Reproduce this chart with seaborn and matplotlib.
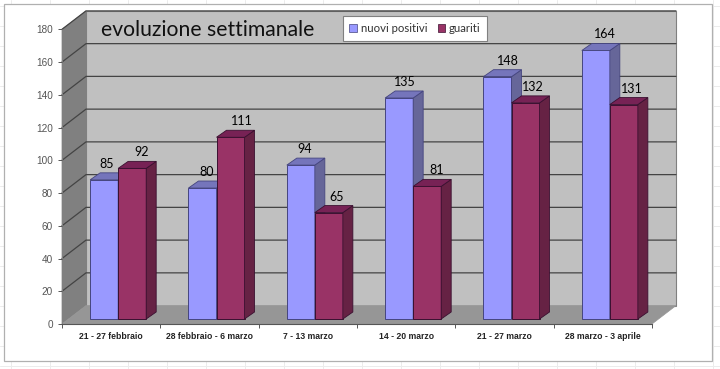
import numpy as np
import pandas as pd
import seaborn as sns
from matplotlib import pyplot as plt
from matplotlib.lines import Line2D
from matplotlib.patches import Polygon, Rectangle
from matplotlib.transforms import Affine2D

weeks = ['21 - 27 febbraio', '28 febbraio - 6 marzo', '7 - 13 marzo',
         '14 - 20 marzo', '21 - 27 marzo', '28 marzo - 3 aprile']
nuovi_positivi = [85, 80, 94, 135, 148, 164]
guariti = [92, 111, 65, 81, 132, 131]
series_names = ['nuovi positivi', 'guariti']
y_ticks = [0, 20, 40, 60, 80, 100, 120, 140, 160, 180]

# label shift to the right of the bar centre, in pixels (Excel puts them unevenly)
nudge_pos = [2, 4, 4, 6, 10, 9]
nudge_gua = [9, 11, 8, 9, 7, 8]

sns.set_style('white')
plt.rcParams['font.family'] = ['Liberation Sans', 'DejaVu Sans']
label_font = ['Lato', 'DejaVu Sans']

W, H = 720, 369
fig = plt.figure(figsize=(W / 100, H / 100), dpi=100, facecolor='white')

# excel sheet behind the chart
for x in np.arange(11, 720, 39):
    fig.add_artist(Line2D([x / W, x / W], [0, 1], color='#ececec', lw=0.7, zorder=-5))
for y in np.arange(6, 369, 20):
    fig.add_artist(Line2D([0, 1], [1 - y / H, 1 - y / H], color='#ececec', lw=0.7, zorder=-5))
fig.add_artist(Rectangle((3.5 / W, 1 - 360.5 / H), 708 / W, 356.5 / H, transform=fig.transFigure,
                         facecolor='white', edgecolor='#b0b0b0', lw=0.9, zorder=-4))

ax = fig.add_axes([62 / W, 1 - 324 / H, 590 / W, 294.7 / H])
ax.set_facecolor('none')

df = pd.DataFrame({
    'week': weeks * 2,
    'value': nuovi_positivi + guariti,
    'serie': [series_names[0]] * 6 + [series_names[1]] * 6,
})
sns.barplot(data=df, x='week', y='value', hue='serie', order=weeks, hue_order=series_names,
            palette=['#9999FF', '#993366'], width=0.57, gap=0, saturation=1, ax=ax,
            linewidth=0.7, legend=False)
ax.set_xlim(-0.5, 5.5)
ax.set_ylim(0, 180)
ax.set_xlabel('')
ax.set_ylabel('')

px_x = 590 / 6
px_y = 294.7 / 180
wall_shift = (24 / px_x, 18.4 / px_y)
depth = (10 / px_x, 7 / px_y)
front = ax.transData + Affine2D().translate(7, 5)

# walls and floor
x0, x1 = -0.5, 5.5
sx, sy = wall_shift
ax.add_patch(Polygon([(x0 + sx, sy), (x1 + sx, sy), (x1 + sx, 180 + sy), (x0 + sx, 180 + sy)],
                     facecolor='#C0C0C0', edgecolor='#808080', lw=0.8, zorder=0.1, clip_on=False))
ax.add_patch(Polygon([(x0, 0), (x0 + sx, sy), (x0 + sx, 180 + sy), (x0, 180)],
                     facecolor='#808080', edgecolor='#808080', lw=0.5, zorder=0.2, clip_on=False))
ax.add_patch(Polygon([(x0, 0), (x1, 0), (x1 + sx, sy), (x0 + sx, sy)],
                     facecolor='#969696', edgecolor='#969696', lw=0.5, zorder=0.2, clip_on=False))
for v in y_ticks[1:]:
    ax.plot([x0, x0 + sx, x1 + sx], [v, v + sy, v + sy], color='#444444', lw=0.9,
            zorder=0.3, clip_on=False)

# 3d look of the bars
colors = [('#666699', '#7575BB', '#45457f'), ('#662244', '#772255', '#3a1030')]
nudges = [nudge_pos, nudge_gua]
for k, cont in enumerate(ax.containers):
    side_col, top_col, edge_col = colors[k]
    for i, p in enumerate(cont):
        a, w, h = p.get_x(), p.get_width(), p.get_height()
        p.set_transform(front)
        p.set_clip_on(False)
        p.set_zorder(3 + k)
        p.set_edgecolor(edge_col)
        dx, dy = depth
        ax.add_patch(Polygon([(a + w, 0), (a + w + dx, dy), (a + w + dx, h + dy), (a + w, h)],
                             transform=front, facecolor=side_col, edgecolor=edge_col, lw=0.6,
                             zorder=3.1 + k, clip_on=False))
        ax.add_patch(Polygon([(a, h), (a + w, h), (a + w + dx, h + dy), (a + dx, h + dy)],
                             transform=front, facecolor=top_col, edgecolor=edge_col, lw=0.6,
                             zorder=3.2 + k, clip_on=False))
        ax.annotate(str(int(h)), (a + w / 2, h), xycoords=front, xytext=(nudges[k][i] * 0.72, 16 * 0.72),
                    textcoords='offset points', ha='center', va='center', fontsize=9,
                    family=label_font, color='black', zorder=8, annotation_clip=False)

# axes
sns.despine(ax=ax, top=True, right=True)
ax.spines['left'].set_color('#808080')
ax.spines['left'].set_linewidth(0.7)
ax.spines['bottom'].set_color('#555555')
ax.spines['bottom'].set_linewidth(0.8)
ax.spines['left'].set_zorder(0.5)
ax.set_yticks(y_ticks)
ax.tick_params(axis='y', left=True, length=3, width=0.7, color='#555555', labelsize=7.2,
               labelcolor='#555555', pad=3.5)
ax.set_xticks(np.arange(-0.5, 6), minor=True)
ax.tick_params(axis='x', which='major', bottom=False, labelsize=6.2, labelcolor='#222222', pad=2)
ax.tick_params(axis='x', which='minor', bottom=True, length=3, width=0.7, color='#555555')
for t in ax.get_xticklabels():
    t.set_fontweight('bold')

fig.text(101 / W, 1 - 30 / H, 'evoluzione settimanale', fontsize=15.2,
         family=label_font, color='#111111', ha='left', va='center', zorder=9)

# legend
handles = [Rectangle((0, 0), 1, 1, facecolor=c, edgecolor=e, lw=0.5)
           for c, e in [('#9999FF', '#45457f'), ('#993366', '#3a1030')]]
leg = fig.legend(handles, series_names, loc='center', bbox_to_anchor=(415 / W, 1 - 28.3 / H), ncol=2,
                 frameon=True, fancybox=False, framealpha=1, facecolor='white',
                 edgecolor='#808080', handlelength=0.65, handleheight=0.65, handletextpad=0.35,
                 columnspacing=0.9, borderpad=0.6, prop={'family': label_font, 'size': 8.2})
leg.get_frame().set_linewidth(0.8)
for t in leg.get_texts():
    t.set_color('#333333')

fig.savefig('out.png', dpi=100)
